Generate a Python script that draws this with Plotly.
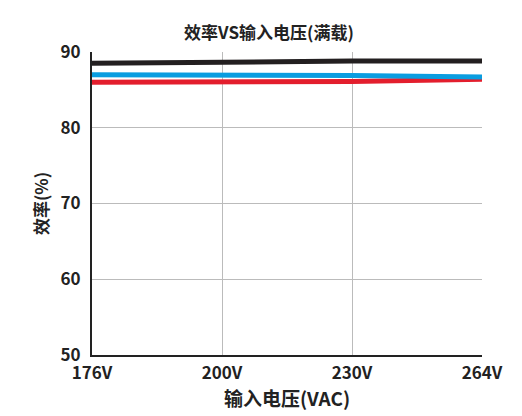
import plotly.graph_objects as go

x_labels = ["176V", "200V", "230V", "264V"]
black = [88.5, 88.7, 88.8, 88.8]
blue = [87.0, 87.0, 86.9, 86.7]
red = [86.0, 86.0, 86.1, 86.4]

fig = go.Figure()
xi = list(range(len(x_labels)))
for ys, c in [(red, "#e31e2d"), (blue, "#0a9de0"), (black, "#231f20")]:
    fig.add_trace(go.Scatter(x=xi, y=ys, mode="lines", line=dict(color=c, width=5), showlegend=False))

font = "Noto Sans CJK SC"
fig.update_layout(
    width=522, height=416, plot_bgcolor="white", paper_bgcolor="white",
    margin=dict(l=84, r=48, t=44, b=69, autoexpand=False),
    title=dict(text="<b>效率VS输入电压(满载)</b>", x=0.5, xanchor="center", y=0.955, font=dict(family=font, size=17, color="#222")),
    font=dict(family=font, color="#222"),
)
fig.update_xaxes(range=[0, 3], tickvals=xi, ticktext=["<b>%s</b>" % t for t in x_labels], automargin=False,
                 showgrid=True, gridcolor="#bbbbbb", gridwidth=1, zeroline=False,
                 showline=True, linecolor="#222", linewidth=2, tickfont=dict(size=17), ticklabelstandoff=2,
                 title=dict(text="<b>输入电压(VAC)</b>", font=dict(size=19), standoff=4))
fig.update_yaxes(range=[50, 90], tickvals=[50, 60, 70, 80, 90], ticktext=["<b>%d</b>" % v for v in [50, 60, 70, 80, 90]], automargin=False,
                 showgrid=True, gridcolor="#bbbbbb", gridwidth=1, zeroline=False,
                 showline=True, linecolor="#222", linewidth=2, tickfont=dict(size=17), ticklabelstandoff=6,
                 title=dict(text="<b>效率(%)</b>", font=dict(size=17), standoff=8))
fig.write_html("out.html")
